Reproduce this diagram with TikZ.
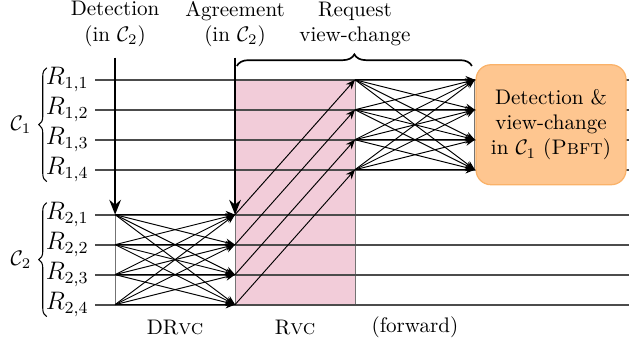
\documentclass[tikz,border=0pt]{standalone}
\usepackage{tikz}
\usepackage{amsmath,amssymb}
\usetikzlibrary{arrows.meta,decorations.pathreplacing}
\definecolor{rvcPink}{RGB}{242,204,217}
\definecolor{pbftOrange}{RGB}{254,198,144}
\definecolor{pbftEdge}{RGB}{250,178,105}

\tikzset{
  replica/.style={draw=black!70,line width=.9pt},
  rlabel/.style={anchor=east,inner sep=3pt,font=\large},
  guide/.style={draw=black!55,line width=.4pt},
  msg/.style={-{Stealth[length=4.5pt,width=3.6pt]},line width=.45pt},
  phase/.style={-{Stealth[length=7pt,width=5.5pt]},line width=1pt},
  grpbrace/.style={decorate,decoration={brace,amplitude=3.8pt},line width=.5pt},
  topbrace/.style={decorate,decoration={brace,amplitude=5.5pt},line width=.8pt},
  pbftbox/.style={rounded corners=7pt,draw=pbftEdge,fill=pbftOrange,line width=.6pt,
    minimum width=2.5cm,minimum height=2cm,align=center},
}

\begin{document}
\begin{tikzpicture}
\useasboundingbox (-1.92,-0.68) rectangle (8.57,5.08);

% replicas of C1 and C2
\foreach \j/\y in {1/3.75,2/3.25,3/2.75,4/2.25}{
  \node[rlabel] (rOne\j) at (-0.33,\y) {$R_{1,\j}$};
  \coordinate (oneReq\j) at (4,\y);
  \coordinate (oneFwd\j) at (6,\y);
  \coordinate (oneEnd\j) at (8.57,\y);
}
\foreach \j/\y in {1/1.5,2/1.0,3/0.5,4/0}{
  \node[rlabel] (rTwo\j) at (-0.33,\y) {$R_{2,\j}$};
  \coordinate (twoDet\j) at (0,\y);
  \coordinate (twoAgr\j) at (2,\y);
  \coordinate (twoEnd\j) at (8.57,\y);
}
\coordinate (detTop) at (0,4.12);
\coordinate (agrTop) at (2,4.12);

% Rvc phase
\fill[rvcPink] (twoAgr4) rectangle (oneReq1);
\draw[guide] (twoDet1) -- (twoDet4);
\draw[guide] (twoAgr1) -- (twoAgr4);
\draw[guide] (oneReq1) -- (twoAgr4 -| oneReq1);
\draw[guide] (oneFwd1) -- (oneFwd4);

\foreach \j in {1,...,4}{
  \draw[replica] (rOne\j.east) -- (oneEnd\j);
  \draw[replica] (rTwo\j.east) -- (twoEnd\j);
}

% messages
\foreach \i in {1,...,4}{
  \foreach \j in {1,...,4}{
    \draw[msg] (twoDet\i) -- (twoAgr\j);
    \draw[msg] (oneReq\i) -- (oneFwd\j);
  }
  \draw[msg] (twoAgr\i) -- (oneReq\i);
}

\draw[phase] (detTop) -- (twoDet1);
\draw[phase] (agrTop) -- (twoAgr1);
\draw[topbrace] (2.03,3.98) -- (5.95,3.98);

% groups
\draw[grpbrace] (-1.14,2.05) -- (-1.14,3.95);
\draw[grpbrace] (-1.14,-0.2) -- (-1.14,1.7);
\node (cOne) at (-1.57,3.0) {$\mathcal{C}_1$};
\node (cTwo) at (-1.57,0.75) {$\mathcal{C}_2$};

\node[pbftbox] (pbft) at (7.27,3.0) {Detection \&\\view-change\\in $\mathcal{C}_1$ (\textsc{Pbft})};

% phase labels
\node[align=center] (detLbl) at (0,4.68) {Detection\\(in $\mathcal{C}_2$)};
\node[align=center] (agrLbl) at (2,4.68) {Agreement\\(in $\mathcal{C}_2$)};
\node[align=center] (reqLbl) at (4,4.68) {Request\\view-change};
\node (drvcLbl) at (1,-0.38) {DR\textsc{vc}};
\node (rvcLbl) at (3,-0.38) {R\textsc{vc}};
\node (fwdLbl) at (5,-0.38) {(forward)};
\end{tikzpicture}
\end{document}
